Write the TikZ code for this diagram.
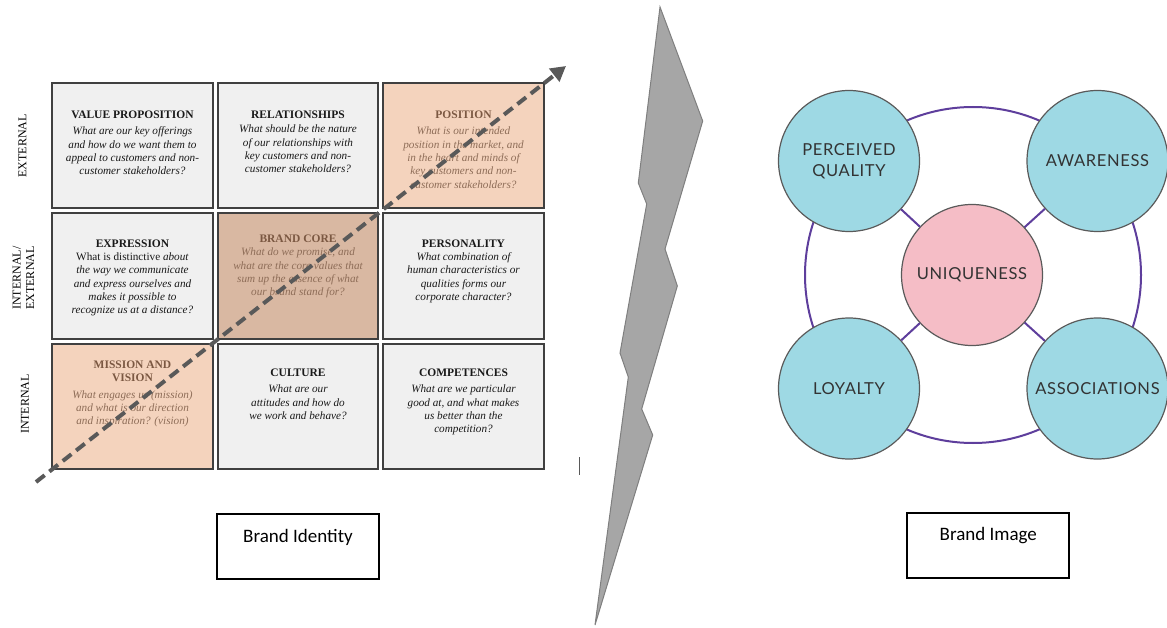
\documentclass[tikz,border=0pt]{standalone}
\usepackage{fontspec}
\setmainfont{Liberation Serif}
\newfontfamily\circlefont[LetterSpace=4]{Lato}
\newfontfamily\boxfont{Carlito}
\usetikzlibrary{arrows.meta}

\definecolor{cellfill}{HTML}{F0F0F0}
\definecolor{cellline}{HTML}{404040}
\definecolor{peachfill}{HTML}{F4D3BD}
\definecolor{corefill}{HTML}{D9B8A2}
\definecolor{browntitle}{HTML}{7B5842}
\definecolor{brownbody}{HTML}{8E6D58}
\definecolor{bolt}{HTML}{A6A6A6}
\definecolor{boltline}{HTML}{7F7F7F}
\definecolor{ringpurple}{HTML}{5E3E9C}
\definecolor{teal}{HTML}{9ED9E4}
\definecolor{pink}{HTML}{F5BDC6}
\definecolor{circline}{HTML}{5A5A5A}
\definecolor{trendgray}{HTML}{595959}

\newcommand\celltitle[1]{{\fontsize{11.5}{13.3}\selectfont\textbf{#1}}}

\tikzset{
  cellbox/.style={draw=cellline, line width=1.3pt, fill=cellfill, inner sep=0pt},
  wide/.style={minimum width=161pt},
  mid/.style={minimum width=160pt},
  celltext/.style={anchor=north, align=center, inner sep=0pt, text=black!90,
    font=\fontsize{11.2}{13.3}\selectfont},
  sidelabel/.style={rotate=90, align=center, inner sep=0pt,
    font=\fontsize{12}{13.5}\selectfont},
  trend/.style={draw=trendgray, line width=4pt, dash pattern=on 11pt off 6pt,
    -{Triangle[length=15pt,width=16pt]}},
  ringline/.style={draw=ringpurple, line width=2pt},
  factor/.style={circle, minimum size=141pt, inner sep=0pt, fill=teal,
    draw=circline, line width=1.2pt, align=center, text=black!80,
    font=\circlefont\fontsize{16.5}{20.5}\selectfont},
  captionbox/.style={draw=black, line width=1.8pt, minimum width=162pt,
    minimum height=65pt, inner sep=0pt},
  captiontext/.style={inner sep=0pt, font=\boxfont\fontsize{19}{22}\selectfont}
}

\begin{document}
\begin{tikzpicture}[x=1pt, y=-1pt]
\useasboundingbox (0,0) rectangle (1167,628);

% ---------- identity grid ----------
\node[cellbox, wide, minimum height=125pt] (vp) at (132.5,145.5) {};
\node[cellbox, mid,  minimum height=125pt] (rel) at (298,145.5) {};
\node[cellbox, wide, minimum height=125pt, fill=peachfill] (pos) at (463.5,145.5) {};
\node[cellbox, wide, minimum height=126pt] (expr) at (132.5,276) {};
\node[cellbox, mid,  minimum height=126pt, fill=corefill] (core) at (298,276) {};
\node[cellbox, wide, minimum height=126pt] (pers) at (463.5,276) {};
\node[cellbox, wide, minimum height=125pt, fill=peachfill] (miss) at (132.5,406.5) {};
\node[cellbox, mid,  minimum height=125pt] (cult) at (298,406.5) {};
\node[cellbox, wide, minimum height=125pt] (comp) at (463.5,406.5) {};

\node[celltext] (vpt) at ([yshift=-28pt]vp.north)
  {\celltitle{VALUE PROPOSITION}\\[3.5pt]\itshape What are our key offerings\\
   \itshape and how do we want them to\\ \itshape appeal to customers and non-\\
   \itshape customer stakeholders?};
\node[celltext] (relt) at ([yshift=-28pt]rel.north)
  {\celltitle{RELATIONSHIPS}\\[1.5pt]\itshape What should be the nature\\
   \itshape of our relationships with\\ \itshape key customers and non-\\
   \itshape customer stakeholders?};
\node[celltext, text=brownbody] (post) at ([yshift=-28pt]pos.north)
  {\textcolor{browntitle}{\celltitle{POSITION}}\\[3.5pt]\itshape What is our intended\\
   \itshape position in the market, and\\ \itshape in the heart and minds of\\
   \itshape key customers and non-\\ \itshape customer stakeholders?};
\node[celltext] (exprt) at ([yshift=-27pt]expr.north)
  {\celltitle{EXPRESSION}\\ What is distinctive \textit{about}\\
   \itshape the way we communicate\\ \itshape and express ourselves and\\
   \itshape makes it possible to\\ \itshape recognize us at a distance?};
\node[celltext, text=brownbody] (coret) at ([yshift=-22.5pt]core.north)
  {\textcolor{browntitle}{\celltitle{BRAND CORE}}\\ \itshape What do we promise, and\\
   \itshape what are the core values that\\ \itshape sum up the essence of what\\
   \itshape our brand stand for?};
\node[celltext] (perst) at ([yshift=-27pt]pers.north)
  {\celltitle{PERSONALITY}\\ \itshape What combination of\\
   \itshape human characteristics or\\ \itshape qualities forms our\\
   \itshape corporate character?};
\node[celltext, text=brownbody] (misst) at ([yshift=-17pt]miss.north)
  {\textcolor{browntitle}{\celltitle{MISSION AND}}\\ \textcolor{browntitle}{\celltitle{VISION}}\\[3.5pt]
   \itshape What engages us (mission)\\ \itshape and what is our direction\\
   \itshape and inspiration? (vision)};
\node[celltext] (cultt) at ([yshift=-25pt]cult.north)
  {\celltitle{CULTURE}\\[3.5pt]\itshape What are our\\
   \itshape attitudes and how do\\ \itshape we work and behave?};
\node[celltext] (compt) at ([yshift=-25pt]comp.north)
  {\celltitle{COMPETENCES}\\[3.5pt]\itshape What are we particular\\
   \itshape good at, and what makes\\ \itshape us better than the\\
   \itshape competition?};

% row labels
\node[sidelabel] (lext) at (22.5,146) {EXTERNAL};
\node[sidelabel] (lmix) at (23.5,278) {INTERNAL/\\EXTERNAL};
\node[sidelabel] (lint) at (25,404) {INTERNAL};

% diagonal trend arrow
\coordinate (trendstart) at (36,482);
\coordinate (trendend) at (566,66);
\draw[trend] (trendstart) -- (trendend);

% small tick mark
\draw[draw=black!65, line width=1pt] (579,457) -- (579,475);

% ---------- lightning bolt ----------
\draw[fill=bolt, draw=boltline, line width=1pt, line join=miter]
  (660,7) -- (702.7,121) -- (665,249) -- (677.3,286) -- (641.7,409)
  -- (652.7,435) -- (595,625) -- (628.3,377) -- (620,353)
  -- (646.7,204) -- (638.3,183) -- cycle;

% ---------- brand image ----------
\node[circle, ringline, minimum size=336pt, inner sep=0pt] (ring) at (973,275) {};
\node[factor] (pq) at (849,161) {PERCEIVED\\QUALITY};
\node[factor] (aw) at (1097.5,161) {AWARENESS};
\node[factor] (lo) at (849,388.5) {LOYALTY};
\node[factor] (as) at (1097.5,388.5) {ASSOCIATIONS};
\node[factor, fill=pink] (uq) at (972,275) {UNIQUENESS};
\draw[ringline] (uq) -- (pq);
\draw[ringline] (uq) -- (aw);
\draw[ringline] (uq) -- (lo);
\draw[ringline] (uq) -- (as);

% ---------- captions ----------
\node[captionbox] (bid) at (298,546.5) {};
\node[captiontext] (bidt) at ([yshift=9.5pt]bid.center) {Brand Identity};
\node[captionbox] (bim) at (988.3,545.3) {};
\node[captiontext] (bimt) at ([yshift=10pt]bim.center) {Brand Image};
\end{tikzpicture}
\end{document}
